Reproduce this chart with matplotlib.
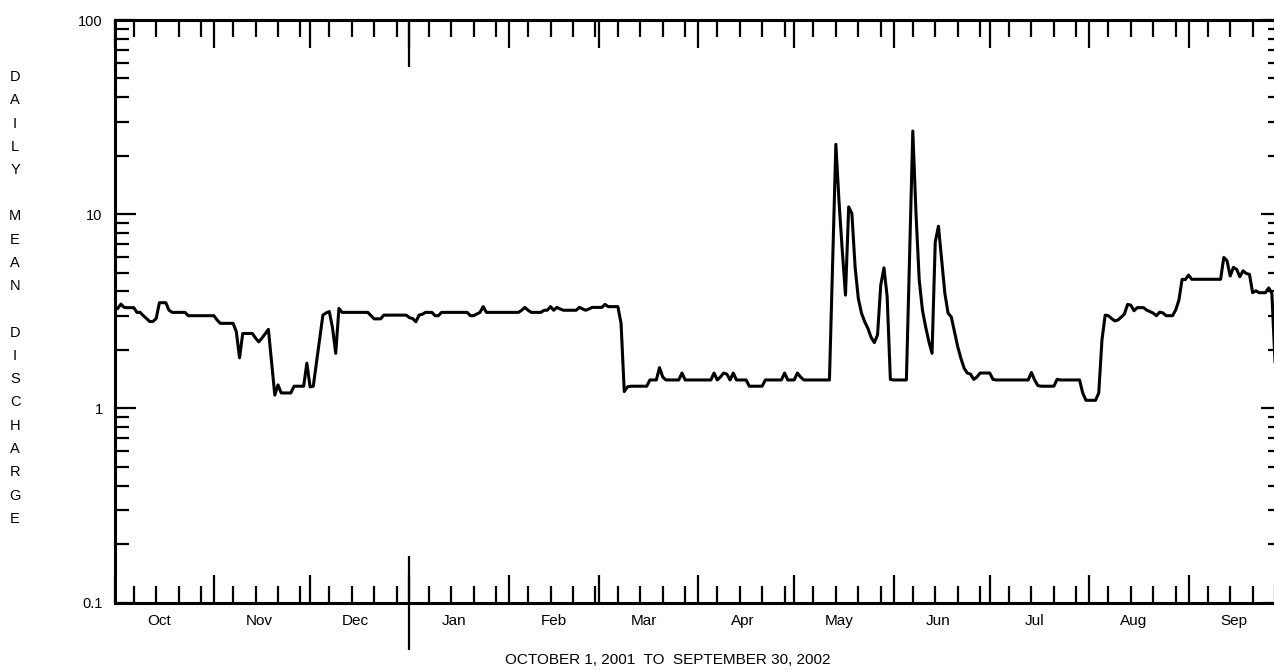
import matplotlib
matplotlib.use('Agg')
import matplotlib.pyplot as plt
import matplotlib.dates as mdates
from matplotlib.ticker import LogLocator, FuncFormatter, NullFormatter, NullLocator
from datetime import datetime
import pandas as pd

plt.rcParams['font.family'] = ['Liberation Sans', 'DejaVu Sans']

# daily mean discharge, water year Oct 2001 - Sep 2002
oct_q = [3.27, 3.44, 3.31, 3.3, 3.3, 3.3, 3.12, 3.12, 3.0, 2.9,
         2.8, 2.8, 2.9, 3.5, 3.5, 3.5, 3.2, 3.12, 3.12, 3.12,
         3.12, 3.12, 3.0, 3.0, 3.0, 3.0, 3.0, 3.0, 3.0, 3.0,
         3.0]
nov_q = [2.85, 2.74, 2.74, 2.74, 2.74, 2.74, 2.48, 1.82, 2.43, 2.43,
         2.43, 2.43, 2.3, 2.2, 2.3, 2.42, 2.55, 1.73, 1.17, 1.32,
         1.2, 1.2, 1.2, 1.2, 1.3, 1.3, 1.3, 1.3, 1.71, 1.29]
dec_q = [1.3, 1.72, 2.28, 3.02, 3.1, 3.15, 2.6, 1.92, 3.27, 3.12,
         3.12, 3.12, 3.12, 3.12, 3.12, 3.12, 3.12, 3.12, 3.0, 2.89,
         2.89, 2.89, 3.02, 3.02, 3.02, 3.02, 3.02, 3.02, 3.02, 3.02,
         2.93]
jan_q = [2.9, 2.79, 3.02, 3.05, 3.12, 3.12, 3.12, 3.0, 3.0, 3.12,
         3.12, 3.12, 3.12, 3.12, 3.12, 3.12, 3.12, 3.12, 3.0, 3.0,
         3.06, 3.12, 3.34, 3.12, 3.12, 3.12, 3.12, 3.12, 3.12, 3.12,
         3.12]
feb_q = [3.12, 3.12, 3.12, 3.2, 3.31, 3.2, 3.12, 3.12, 3.12, 3.12,
         3.2, 3.2, 3.34, 3.2, 3.31, 3.25, 3.2, 3.2, 3.2, 3.2,
         3.2, 3.31, 3.25, 3.2, 3.25, 3.31, 3.31, 3.31]
mar_q = [3.31, 3.43, 3.34, 3.34, 3.34, 3.34, 2.74, 1.22, 1.29, 1.3,
         1.3, 1.3, 1.3, 1.3, 1.3, 1.4, 1.4, 1.4, 1.62, 1.45,
         1.4, 1.4, 1.4, 1.4, 1.4, 1.52, 1.4, 1.4, 1.4, 1.4,
         1.4]
apr_q = [1.4, 1.4, 1.4, 1.4, 1.52, 1.4, 1.45, 1.52, 1.5, 1.4,
         1.52, 1.4, 1.4, 1.4, 1.4, 1.3, 1.3, 1.3, 1.3, 1.3,
         1.4, 1.4, 1.4, 1.4, 1.4, 1.4, 1.52, 1.4, 1.4, 1.4]
may_q = [1.52, 1.45, 1.4, 1.4, 1.4, 1.4, 1.4, 1.4, 1.4, 1.4,
         1.4, 5.7, 22.9, 11.5, 6.5, 3.83, 10.9, 10.07, 5.35, 3.68,
         3.09, 2.79, 2.58, 2.32, 2.18, 2.39, 4.31, 5.29, 3.76, 1.41,
         1.4]
jun_q = [1.4, 1.4, 1.4, 1.4, 6.1, 26.8, 10.07, 4.58, 3.21, 2.63,
         2.21, 1.92, 7.2, 8.67, 5.81, 3.91, 3.09, 2.96, 2.48, 2.08,
         1.81, 1.61, 1.52, 1.5, 1.41, 1.45, 1.52, 1.52, 1.52, 1.52]
jul_q = [1.41, 1.4, 1.4, 1.4, 1.4, 1.4, 1.4, 1.4, 1.4, 1.4,
         1.4, 1.4, 1.53, 1.4, 1.31, 1.3, 1.3, 1.3, 1.3, 1.3,
         1.41, 1.4, 1.4, 1.4, 1.4, 1.4, 1.4, 1.4, 1.2, 1.1,
         1.1]
aug_q = [1.1, 1.1, 1.2, 2.25, 3.02, 3.0, 2.9, 2.82, 2.85, 2.95,
         3.06, 3.43, 3.4, 3.18, 3.3, 3.3, 3.3, 3.2, 3.15, 3.09,
         3.0, 3.13, 3.1, 3.0, 3.0, 3.0, 3.21, 3.61, 4.62, 4.6,
         4.86]
sep_q = [4.62, 4.62, 4.62, 4.62, 4.62, 4.62, 4.62, 4.62, 4.62, 4.62,
         5.99, 5.76, 4.8, 5.32, 5.2, 4.76, 5.11, 4.95, 4.9, 3.94,
         4.03, 3.94, 3.94, 3.94, 4.17, 3.9, 1.7, 1.6, 1.6, 1.6]

flow = (oct_q + nov_q + dec_q + jan_q + feb_q + mar_q +
        apr_q + may_q + jun_q + jul_q + aug_q + sep_q)
days = pd.date_range('2001-10-01', '2002-09-30', freq='D')
x = days + pd.Timedelta(days=1)  # value drawn at end of its day

ylabel = 'DAILY MEAN DISCHARGE'
xlabel = 'OCTOBER 1, 2001  TO  SEPTEMBER 30, 2002'

W, H = 1274, 670
fig = plt.figure(figsize=(W / 100, H / 100), dpi=100)
ax = fig.add_axes([114.5 / W, 67.5 / H, 1167 / W, 582.5 / H])

ax.plot(x, flow, color='black', lw=2.2)

ax.set_yscale('log')
ax.set_ylim(0.1, 100)
ax.set_xlim(datetime(2001, 10, 1), datetime(2002, 9, 30))

for s in ax.spines.values():
    s.set_linewidth(2.2)

# y axis
ax.yaxis.set_major_locator(LogLocator(base=10))
ax.yaxis.set_minor_locator(LogLocator(base=10, subs=range(2, 10)))
ax.yaxis.set_major_formatter(FuncFormatter(lambda v, p: '%g' % v))
ax.yaxis.set_minor_formatter(NullFormatter())
ax.tick_params(axis='y', which='major', direction='in', length=15, width=1.6,
               left=True, right=True, labelsize=10.5, pad=8.5)
ax.tick_params(axis='y', which='minor', direction='in', length=10, width=1.6,
               left=True, right=True)

# x axis: month starts and weekly marks
ax.xaxis.set_major_locator(mdates.MonthLocator())
ax.xaxis.set_minor_locator(mdates.DayLocator(bymonthday=[7, 14, 21, 28]))
ax.xaxis.set_major_formatter(NullFormatter())
ax.tick_params(axis='x', which='major', direction='in', length=20, width=1.6,
               top=True, bottom=True, labelbottom=False)
ax.tick_params(axis='x', which='minor', direction='in', length=12, width=1.6,
               top=True, bottom=True)

# month names centred mid-month
lab = ax.secondary_xaxis('bottom')
lab.xaxis.set_major_locator(mdates.DayLocator(bymonthday=15))
lab.xaxis.set_major_formatter(mdates.DateFormatter('%b'))
lab.xaxis.set_minor_locator(NullLocator())
lab.tick_params(length=0, pad=8, labelsize=11)
lab.spines['bottom'].set_visible(False)

# year boundary marks
yb = ax.secondary_xaxis('bottom')
yb.xaxis.set_major_locator(mdates.MonthLocator(bymonth=1))
yb.xaxis.set_major_formatter(NullFormatter())
yb.xaxis.set_minor_locator(NullLocator())
yb.tick_params(direction='inout', length=68, width=1.6)
yb.spines['bottom'].set_visible(False)

yt = ax.secondary_xaxis('top')
yt.xaxis.set_major_locator(mdates.MonthLocator(bymonth=1))
yt.xaxis.set_major_formatter(NullFormatter())
yt.xaxis.set_minor_locator(NullLocator())
yt.tick_params(direction='in', length=34, width=1.6)
yt.spines['top'].set_visible(False)

# stacked vertical axis title
for j, ch in enumerate(ylabel):
    fig.text(15 / W, 1 - (77 + j * 23.25) / H, ch, ha='center', va='center',
             fontsize=10.5)

fig.text(668 / W, 1 - 660 / H, xlabel, ha='center', va='center', fontsize=11)

fig.savefig('out.png', dpi=100)
